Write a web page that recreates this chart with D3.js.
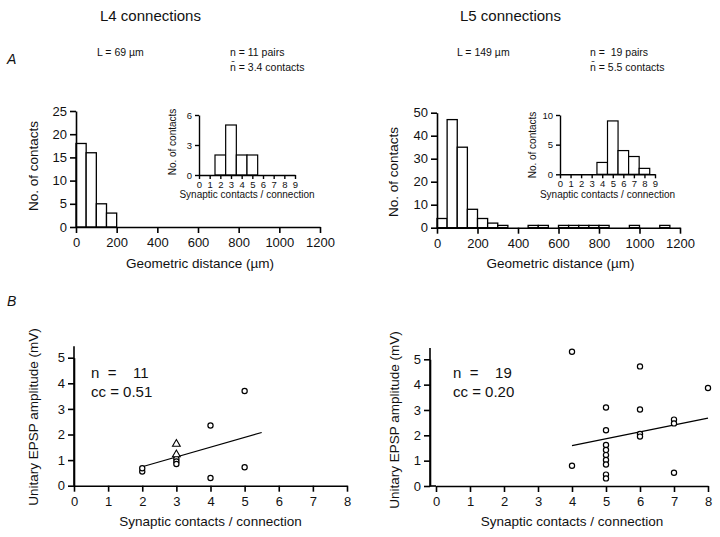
<!DOCTYPE html>
<html><head><meta charset="utf-8">
<script src="https://cdn.jsdelivr.net/npm/d3@7"></script>
<style>
body{margin:0;background:#fff}
svg{font-family:"Liberation Sans",Arial,Helvetica,sans-serif}
text{fill:#111}
</style></head><body>
<svg id="c" width="720" height="537"></svg>
<script>
// ---------- data ----------
const binWidth = 50;
const l4DistCounts = [18,16,5,3];
const l5DistCounts = [4,47,35,8,4,2,1,0,0,1,1,0,1,1,1,1,1,0,0,1,0,0,1,0];
const distTicks = [0,200,400,600,800,1000,1200];
const l4ContactCats = [2,3,4,5];
const l4ContactCounts = [2,5,2,2];
const l5ContactCats = [4,5,6,7,8];
const l5ContactCounts = [2,9,4,3,1];
const insetXTicks = [0,1,2,3,4,5,6,7,8,9];
const l4CircX = [2,2,3,3,3,4,4,5,5];
const l4CircY = [0.55,0.68,1.05,0.95,0.85,2.35,0.3,3.7,0.72];
const l4TriX = [3,3];
const l4TriY = [1.63,1.22];
const l4Fit = [[2,0.74],[5.5,2.08]];
const l5CircX = [4,4,5,5,5,5,5,5,5,5,5,6,6,6,6,7,7,7,8];
const l5CircY = [5.3,0.8,3.1,2.2,1.62,1.42,1.22,1.03,0.85,0.45,0.3,4.72,3.02,2.05,1.95,2.62,2.47,0.52,3.87];
const l5Fit = [[4,1.59],[8,2.68]];
const scatterXTicks = [0,1,2,3,4,5,6,7,8];
const scatterYTicks = [0,1,2,3,4,5];

const svg = d3.select("#c");
const fmt = d3.format("d");

function styleAxis(g, w){
  g.selectAll(".domain").attr("stroke","#000").attr("stroke-width",w);
  g.selectAll(".tick line").attr("stroke","#000").attr("stroke-width",w);
  g.selectAll(".tick text").attr("fill","#111");
}

// ---------- histogram ----------
function hist(opt){
  const x = d3.scaleLinear().domain([0,1200]).range(opt.xr);
  const y = d3.scaleLinear().domain([0,opt.ymax]).range(opt.yr);
  const g = svg.append("g");
  g.selectAll("rect").data(opt.counts).join("rect")
    .attr("x",(d,i)=>x(i*binWidth)).attr("width",x(binWidth)-x(0))
    .attr("y",d=>y(d)).attr("height",d=>y(0)-y(d))
    .attr("fill","#fff").attr("stroke","#000").attr("stroke-width",1.3);
  const ax = g.append("g").attr("transform",`translate(0,${y(0)})`)
    .call(d3.axisBottom(x).tickValues(distTicks).tickFormat(fmt).tickSize(6).tickSizeOuter(0).tickPadding(5))
    .attr("font-size",13).attr("font-family",null);
  styleAxis(ax,1.6);
  const ay = g.append("g").attr("transform",`translate(${x(0)},0)`)
    .call(d3.axisLeft(y).tickValues(opt.yticks).tickFormat(fmt).tickSize(6).tickSizeOuter(0).tickPadding(3))
    .attr("font-size",13).attr("font-family",null);
  styleAxis(ay,1.6);
  g.append("text").attr("x",(opt.xr[0]+opt.xr[1])/2+2).attr("y",268).attr("text-anchor","middle")
    .attr("font-size",13.5).text("Geometric distance (µm)");
  g.append("text").attr("transform",`translate(${opt.ylx},${opt.yly}) rotate(-90)`)
    .attr("text-anchor","middle").attr("font-size",13.5).text("No. of contacts");
}
hist({counts:l4DistCounts,xr:[76,320],yr:[227,111],ymax:25,yticks:[0,5,10,15,20,25],ylx:38,yly:166});
hist({counts:l5DistCounts,xr:[437,680],yr:[227.7,112.7],ymax:50,yticks:[0,10,20,30,40,50],ylx:398,yly:172});

// ---------- inset ----------
function inset(opt){
  const x = d3.scaleLinear().domain([0,9]).range(opt.xr);
  const y = d3.scaleLinear().domain([0,opt.ymax]).range(opt.yr);
  const g = svg.append("g");
  const w = x(1)-x(0);
  g.selectAll("rect").data(opt.cats).join("rect")
    .attr("x",d=>x(d)-w/2).attr("width",w)
    .attr("y",(d,i)=>y(opt.counts[i])).attr("height",(d,i)=>y(0)-y(opt.counts[i]))
    .attr("fill","#fff").attr("stroke","#000").attr("stroke-width",1.2);
  const ax = g.append("g").attr("transform",`translate(0,${y(0)})`)
    .call(d3.axisBottom(x).tickValues(insetXTicks).tickFormat(fmt).tickSize(4).tickSizeOuter(0).tickPadding(2))
    .attr("font-size",9.5).attr("font-family",null);
  styleAxis(ax,1.4);
  const ay = g.append("g").attr("transform",`translate(${x(0)},0)`)
    .call(d3.axisLeft(y).tickValues(opt.yticks).tickFormat(fmt).tickSize(4).tickSizeOuter(0).tickPadding(3))
    .attr("font-size",9.5).attr("font-family",null);
  styleAxis(ay,1.4);
  g.append("text").attr("x",(opt.xr[0]+opt.xr[1])/2).attr("y",198).attr("text-anchor","middle")
    .attr("font-size",10).text("Synaptic contacts / connection");
  g.append("text").attr("transform",`translate(${opt.ylx},${opt.yly}) rotate(-90)`)
    .attr("text-anchor","middle").attr("font-size",10).text("No. of contacts");
}
inset({cats:l4ContactCats,counts:l4ContactCounts,xr:[199,295],yr:[175,115],ymax:6,yticks:[0,3,6],ylx:176,yly:142});
inset({cats:l5ContactCats,counts:l5ContactCounts,xr:[560,655],yr:[174.3,115],ymax:10,yticks:[0,5,10],ylx:536,yly:145});

// ---------- scatter ----------
function scatter(opt){
  const x = d3.scaleLinear().domain([0,8]).range(opt.xr);
  const y = d3.scaleLinear().domain([0,5]).range(opt.yr);
  const g = svg.append("g");
  const ax = g.append("g").attr("transform",`translate(0,${y(0)})`)
    .call(d3.axisBottom(x).tickValues(scatterXTicks).tickFormat(fmt).tickSize(6).tickSizeOuter(0).tickPadding(5))
    .attr("font-size",13).attr("font-family",null);
  styleAxis(ax,1.6);
  g.append("line").attr("x1",opt.yAxisX).attr("x2",x(0)).attr("y1",y(0)).attr("y2",y(0))
    .attr("stroke","#000").attr("stroke-width",1.6);
  const ay = g.append("g").attr("transform",`translate(${opt.yAxisX},0)`)
    .call(d3.axisLeft(y).tickValues(scatterYTicks).tickFormat(fmt).tickSize(6).tickSizeOuter(0).tickPadding(3))
    .attr("font-size",13).attr("font-family",null);
  styleAxis(ay,1.6);
  g.append("line").attr("x1",opt.yAxisX).attr("x2",opt.yAxisX).attr("y1",y(0)).attr("y2",y(5.45))
    .attr("stroke","#000").attr("stroke-width",1.6);
  const line = d3.line().x(d=>x(d[0])).y(d=>y(d[1]));
  g.append("path").attr("d",line(opt.fit)).attr("stroke","#000").attr("stroke-width",1.2).attr("fill","none");
  g.selectAll("circle").data(opt.cx).join("circle")
    .attr("cx",d=>x(d)).attr("cy",(d,i)=>y(opt.cy[i])).attr("r",2.6)
    .attr("fill","#fff").attr("stroke","#000").attr("stroke-width",1.2);
  if(opt.tx){
    const tri = d3.symbol().type(d3.symbolTriangle).size(26);
    g.selectAll("path.tri").data(opt.tx).join("path").attr("class","tri")
      .attr("d",tri).attr("transform",(d,i)=>`translate(${x(d)},${y(opt.ty[i])})`)
      .attr("fill","#fff").attr("stroke","#000").attr("stroke-width",1.1);
  }
  g.append("text").attr("x",(opt.xr[0]+opt.xr[1])/2).attr("y",526).attr("text-anchor","middle")
    .attr("font-size",13.5).text("Synaptic contacts / connection");
  g.append("text").attr("transform",`translate(${opt.ylx},${opt.yly}) rotate(-90)`)
    .attr("text-anchor","middle").attr("font-size",13.5).text("Unitary EPSP amplitude (mV)");
  g.append("text").attr("x",opt.tx0).attr("y",378).attr("font-size",15).style("white-space","pre").text(opt.nText);
  g.append("text").attr("x",opt.tx0).attr("y",397).attr("font-size",15).text(opt.ccText);
}
scatter({cx:l4CircX,cy:l4CircY,tx:l4TriX,ty:l4TriY,fit:l4Fit,xr:[74,347],yr:[485.7,357.7],yAxisX:74,
  ylx:38,yly:417,tx0:91,nText:"n  =    11",ccText:"cc = 0.51"});
scatter({cx:l5CircX,cy:l5CircY,fit:l5Fit,xr:[436,708],yr:[486,359.3],yAxisX:430,
  ylx:399,yly:420,tx0:453,nText:"n  =    19",ccText:"cc = 0.20"});

// ---------- headers ----------
const hdr = [
  {x:100,y:21,s:15,t:"L4 connections"},
  {x:460,y:21,s:15,t:"L5 connections"},
  {x:97,y:56,s:10.5,t:"L = 69 µm"},
  {x:230,y:56,s:10.5,t:"n = 11 pairs"},
  {x:230,y:71,s:10.5,t:"n\u0304 = 3.4 contacts"},
  {x:457,y:56,s:10.5,t:"L = 149 µm"},
  {x:590,y:56,s:10.5,t:"n =  19 pairs"},
  {x:590,y:71,s:10.5,t:"n\u0304 = 5.5 contacts"}
];
hdr.forEach(h=>svg.append("text").attr("x",h.x).attr("y",h.y).attr("font-size",h.s).style("white-space","pre").text(h.t));
svg.append("text").attr("x",7).attr("y",64).attr("font-size",14).attr("font-style","italic").text("A");
svg.append("text").attr("x",7).attr("y",306).attr("font-size",14).attr("font-style","italic").text("B");
</script></body></html>
